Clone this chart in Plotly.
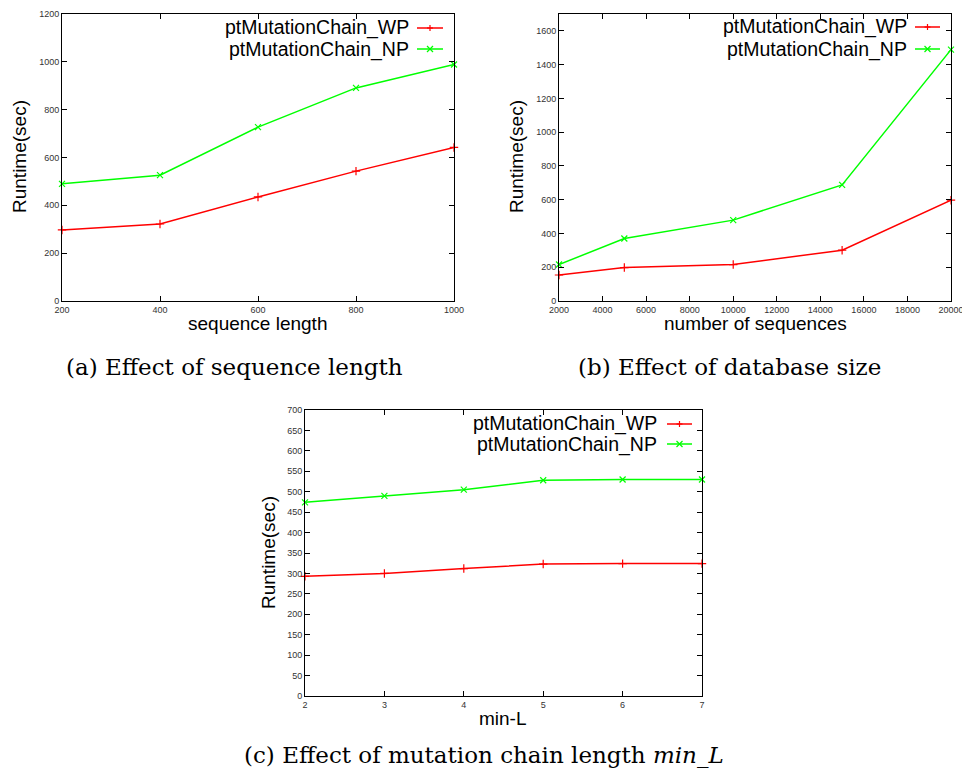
import plotly.graph_objects as go

# ---------------- data ----------------
seq_len = [200, 400, 600, 800, 1000]
seq_wp = [297, 322, 435, 543, 642]
seq_np = [490, 526, 727, 891, 989]

db_size = [2000, 5000, 10000, 15000, 20000]
db_wp = [154, 198, 216, 301, 597]
db_np = [216, 370, 479, 688, 1489]

min_l = [2, 3, 4, 5, 6, 7]
ml_wp = [293, 300, 312, 323, 324, 324]
ml_np = [474, 490, 505, 528, 530, 530]

series_names = ["ptMutationChain_WP", "ptMutationChain_NP"]
captions = ["(a) Effect of sequence length", "(b) Effect of database size",
            "(c) Effect of mutation chain length <i>min</i>_<i>L</i>"]
x_titles = ["sequence length", "number of sequences", "min-L"]
y_title = "Runtime(sec)"

RED = "#ff0000"
GREEN = "#00ff00"
W, H = 962, 776

fig = go.Figure()

panels = [
    dict(x=seq_len, wp=seq_wp, np_=seq_np, xa="x", ya="y",
         xr=[200, 1000], yr=[0, 1200], xdt=200, ydt=200,
         px=(62, 454), py=(14, 301)),
    dict(x=db_size, wp=db_wp, np_=db_np, xa="x2", ya="y2",
         xr=[2000, 20000], yr=[0, 1700], xdt=2000, ydt=200,
         px=(559, 951), py=(14, 301)),
    dict(x=min_l, wp=ml_wp, np_=ml_np, xa="x3", ya="y3",
         xr=[2, 7], yr=[0, 700], xdt=1, ydt=50,
         px=(305, 702), py=(410, 696)),
]

axis_common = dict(showline=True, linecolor="black", linewidth=1, mirror="allticks",
                   ticks="inside", ticklen=5, tickcolor="black", showgrid=False,
                   zeroline=False, automargin=False, tickformat="d",
                   ticklabeloverflow="allow",
                   tickfont=dict(family="Liberation Sans", size=9, color="#333"))

for i, p in enumerate(panels):
    fig.add_trace(go.Scatter(x=p["x"], y=p["wp"], mode="lines+markers", xaxis=p["xa"], yaxis=p["ya"],
                             line=dict(color=RED, width=1.5),
                             marker=dict(symbol="cross-thin", size=6, line=dict(color=RED, width=1.2)),
                             name=series_names[0], showlegend=False, cliponaxis=False))
    fig.add_trace(go.Scatter(x=p["x"], y=p["np_"], mode="lines+markers", xaxis=p["xa"], yaxis=p["ya"],
                             line=dict(color=GREEN, width=1.5),
                             marker=dict(symbol="x-thin", size=6, line=dict(color=GREEN, width=1.2)),
                             name=series_names[1], showlegend=False, cliponaxis=False))
    suffix = "" if i == 0 else str(i + 1)
    xlo, xhi = p["xr"]
    xticks = list(range(xlo, xhi + 1, p["xdt"]))
    ylo, yhi = p["yr"]
    yticks = list(range(ylo, yhi + 1, p["ydt"]))
    fig.layout["xaxis" + suffix] = dict(domain=[p["px"][0] / W, p["px"][1] / W], range=p["xr"],
                                        tickmode="array", tickvals=xticks, anchor=p["ya"], **axis_common)
    fig.layout["yaxis" + suffix] = dict(domain=[1 - p["py"][1] / H, 1 - p["py"][0] / H], range=p["yr"],
                                        tickmode="array", tickvals=yticks, anchor=p["xa"], **axis_common)

annotations = []
shapes = []

def pap(x, y):
    return x / W, 1 - y / H

def text_ann(text, x, y, size, family="Liberation Sans", angle=0, xanchor="center"):
    ax, ay = pap(x, y)
    return dict(text=text, x=ax, y=ay, xref="paper", yref="paper", textangle=angle,
                xanchor=xanchor, yanchor="middle", showarrow=False,
                font=dict(family=family, size=size, color="black"))

# axis titles
ytitle_pos = [(20, 157), (517, 157), (268, 553)]
xtitle_pos = [(257, 323), (755, 323), (503, 718)]
for (x, y) in ytitle_pos:
    annotations.append(text_ann(y_title, x, y, 19, angle=-90))
for t, (x, y) in zip(x_titles, xtitle_pos):
    annotations.append(text_ann(t, x, y, 19))

# legends (gnuplot style: text right-aligned, sample on the right)
legend_pos = [(411, 28, 49, 417, 443), (909, 27, 49, 915, 940), (659, 424, 444, 667, 692)]
for (tx, y1, y2, s0, s1) in legend_pos:
    for name, yy, col, sym in [(series_names[0], y1, RED, "+"), (series_names[1], y2, GREEN, "x")]:
        annotations.append(text_ann(name, tx, yy, 19.5, xanchor="right"))
        a0, b0 = pap(s0, yy)
        a1, _ = pap(s1, yy)
        shapes.append(dict(type="line", xref="paper", yref="paper", x0=a0, x1=a1, y0=b0, y1=b0,
                           line=dict(color=col, width=1.5)))
        cx = (s0 + s1) / 2
        if sym == "+":
            segs = [((cx - 3, yy), (cx + 3, yy)), ((cx, yy - 3), (cx, yy + 3))]
        else:
            segs = [((cx - 3, yy - 3), (cx + 3, yy + 3)), ((cx - 3, yy + 3), (cx + 3, yy - 3))]
        for (p0, p1) in segs:
            q0 = pap(*p0)
            q1 = pap(*p1)
            shapes.append(dict(type="line", xref="paper", yref="paper", x0=q0[0], y0=q0[1],
                               x1=q1[0], y1=q1[1], line=dict(color=col, width=1.2)))

# captions
cap_pos = [(234, 367), (729, 367), (484, 755)]
for t, (x, y) in zip(captions, cap_pos):
    annotations.append(text_ann(t, x, y, 23, family="DejaVu Serif"))

fig.update_layout(width=W, height=H, margin=dict(l=0, r=0, t=0, b=0),
                  paper_bgcolor="white", plot_bgcolor="white",
                  annotations=annotations, shapes=shapes, showlegend=False)

fig.write_html("out.html", config={"displayModeBar": False},
               post_script="document.body.style.margin='0';")
